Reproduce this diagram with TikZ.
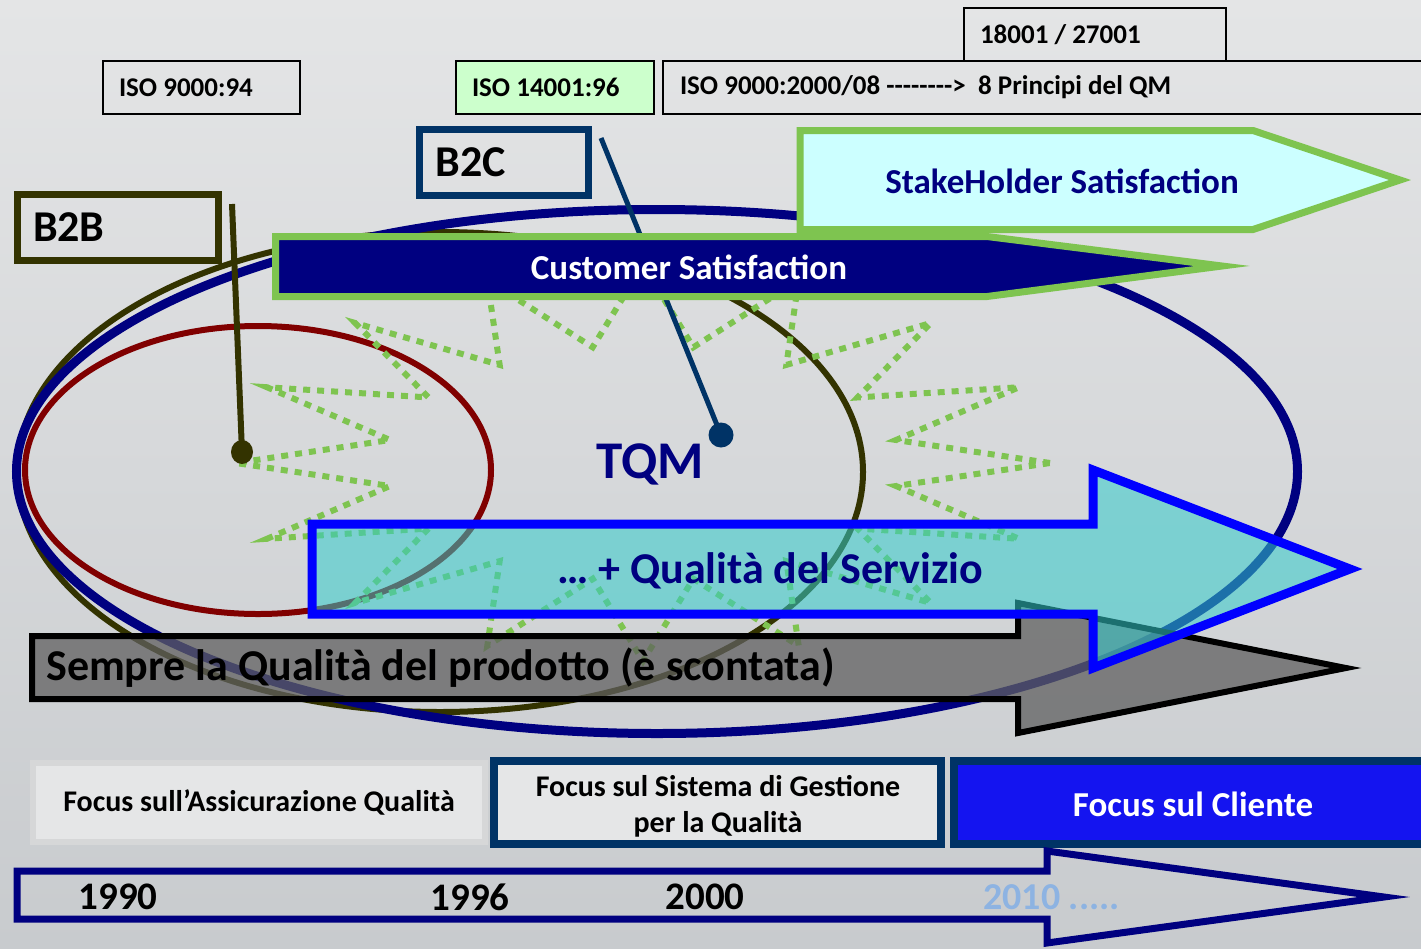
\documentclass[tikz,border=0pt]{standalone}
\usepackage{fontspec}
\setmainfont{Carlito}
\usetikzlibrary{shapes.geometric}
\definecolor{navy}{RGB}{0,0,128}
\definecolor{olivedk}{RGB}{51,51,0}
\definecolor{redE}{RGB}{128,0,0}
\definecolor{b2cblue}{RGB}{0,51,102}
\definecolor{lgreen}{RGB}{126,196,80}
\definecolor{mint}{RGB}{204,255,204}
\definecolor{paleblue}{RGB}{204,255,255}
\definecolor{qcyan}{RGB}{51,204,204}
\definecolor{pureblue}{RGB}{0,0,255}
\definecolor{clientblue}{RGB}{20,20,240}
\definecolor{yearblue}{RGB}{141,179,226}
\definecolor{bgtop}{RGB}{228,229,230}
\definecolor{bgmid}{RGB}{247,247,247}
\definecolor{bgbot}{RGB}{200,203,206}
\definecolor{boxgray}{RGB}{214,215,216}
\definecolor{boxfill}{RGB}{229,230,231}
\definecolor{grayarrow}{RGB}{96,96,96}
\begin{document}
\begin{tikzpicture}[x=1pt,y=-1pt,
  fs/.style={font=\fontsize{#1}{#1}\selectfont\bfseries},
  isobox/.style={draw=black, line width=2pt, minimum height=53pt, inner xsep=0pt, align=flush left, fs=27},
  bbox/.style={line width=7pt, minimum height=66pt, inner xsep=0pt, align=flush left, fs=44},
  txt/.style={inner sep=0pt},
  starline/.style={draw=lgreen, line width=6pt, dash pattern=on 7pt off 7pt},
  focusbox/.style={line width=8pt, draw=b2cblue, minimum height=83pt, align=center},
  line join=miter]
\useasboundingbox (0,0) rectangle (1421,948);
\shade[top color=bgtop, middle color=bgmid, bottom color=bgbot] (0,0) rectangle (1421,948);

% ellipses
\draw[olivedk, line width=6pt] (440,472) ellipse [x radius=423pt, y radius=240pt];
\draw[navy, line width=9pt] (657,471.5) ellipse [x radius=640.5pt, y radius=262pt];
\draw[redE, line width=6pt] (258,470) ellipse [x radius=233pt, y radius=144pt];

% star burst
\draw[starline] (1050,463) \foreach \i in {1,...,31}{ -- ({643+ifthenelse(mod(\i,2)==0,407,258)*cos(\i*11.25)},{463-ifthenelse(mod(\i,2)==0,198,118)*sin(\i*11.25)}) } -- cycle;

% pointers
\node[circle, fill=b2cblue, inner sep=0pt, minimum size=25pt] (b2cdot) at (721,435) {};
\coordinate (b2ctop) at (601,138);
\draw[b2cblue, line width=5pt] (b2ctop) -- (b2cdot.center);
\node[ellipse, fill=olivedk, inner sep=0pt, minimum width=22pt, minimum height=24pt] (b2bdot) at (242,452) {};
\coordinate (b2btop) at (232,204);
\draw[olivedk, line width=6pt] (b2btop) -- (b2bdot.center);

% label boxes
\node[bbox, draw=olivedk, minimum width=201pt, text width=170pt] (b2b) at (118,227.5) {B2B};
\node[bbox, draw=b2cblue, minimum width=169pt, text width=137pt] (b2c) at (504,162.5) {B2C};

\node[isobox, minimum width=197pt, text width=165pt] (iso94) at (201.5,87.5) {ISO 9000:94};
\node[isobox, fill=mint, minimum width=198pt, text width=166pt] (iso14) at (555,87.5) {ISO 14001:96};
\node[isobox, minimum width=767pt, text width=733pt] (iso2000) at (1046.5,87.5) {ISO 9000:2000/08 -{}-{}-{}-{}-{}-{}-{}->\ \ 8 Principi del QM};
\node[isobox, minimum width=262pt, text width=230pt] (iso18) at (1095,34.5) {18001 / 27001};

\node[txt, navy, fs=53] (tqm) at (650,464) {TQM};

% stakeholder and customer arrows
\draw[lgreen, line width=7pt, fill=paleblue] (800,130.5) -- (1253,130.5) -- (1400,180) -- (1253,229.5) -- (800,229.5) -- cycle;
\node[txt, navy, fs=35] (stake) at (1062,181) {StakeHolder Satisfaction};
\draw[lgreen, line width=7pt, fill=navy] (275.5,236.5) -- (987,236.5) -- (1222,266) -- (987,296.5) -- (275.5,296.5) -- cycle;
\node[txt, white, fs=35] (cust) at (689,267) {Customer Satisfaction};

% product quality arrow
\draw[black, line width=6pt, fill=grayarrow, fill opacity=0.75] (32,636) -- (1018,636) -- (1018,603) -- (1346,668) -- (1018,733) -- (1018,699) -- (32,699) -- cycle;
\node[txt, black, fs=44, anchor=west] (sempre) at (46,668) {Sempre la Qualità del prodotto (è scontata)};

% service quality arrow
\draw[pureblue, line width=9pt, fill=qcyan, fill opacity=0.55] (312,524) -- (1093,524) -- (1093,470) -- (1350,569) -- (1093,668) -- (1093,614) -- (312,614) -- cycle;
\node[txt, navy, fs=44] (serv) at (770,571) {… + Qualità del Servizio};

% focus boxes
\node[draw=boxgray, fill=boxfill, line width=6pt, minimum width=452pt, minimum height=79pt, fs=30] (fass) at (259,802.5) {Focus sull’Assicurazione Qualità};
\node[focusbox, fill=boxfill, minimum width=447pt] (fsis) at (717.5,802.5) {};
\node[txt, fs=30, align=center] (fsistxt) at (718,806) {Focus sul Sistema di Gestione\\[6pt]per la Qualità};
\node[focusbox, fill=clientblue, minimum width=472pt] (fcli) at (1190,802.5) {};
\node[txt, white, fs=35] (fclitxt) at (1193,804) {Focus sul Cliente};

% timeline arrow
\draw[navy, line width=7pt] (17,871) -- (1047,871) -- (1047,851) -- (1384,897) -- (1047,943) -- (1047,919) -- (17,919) -- cycle;
\node[txt, fs=39] (y1990) at (118,897) {1990};
\node[txt, fs=39] (y1996) at (470,897) {1996};
\node[txt, fs=39] (y2000) at (705,897) {2000};
\node[txt, fs=38, yearblue, anchor=west] (y2010) at (983,897) {2010 .....};
\end{tikzpicture}
\end{document}
